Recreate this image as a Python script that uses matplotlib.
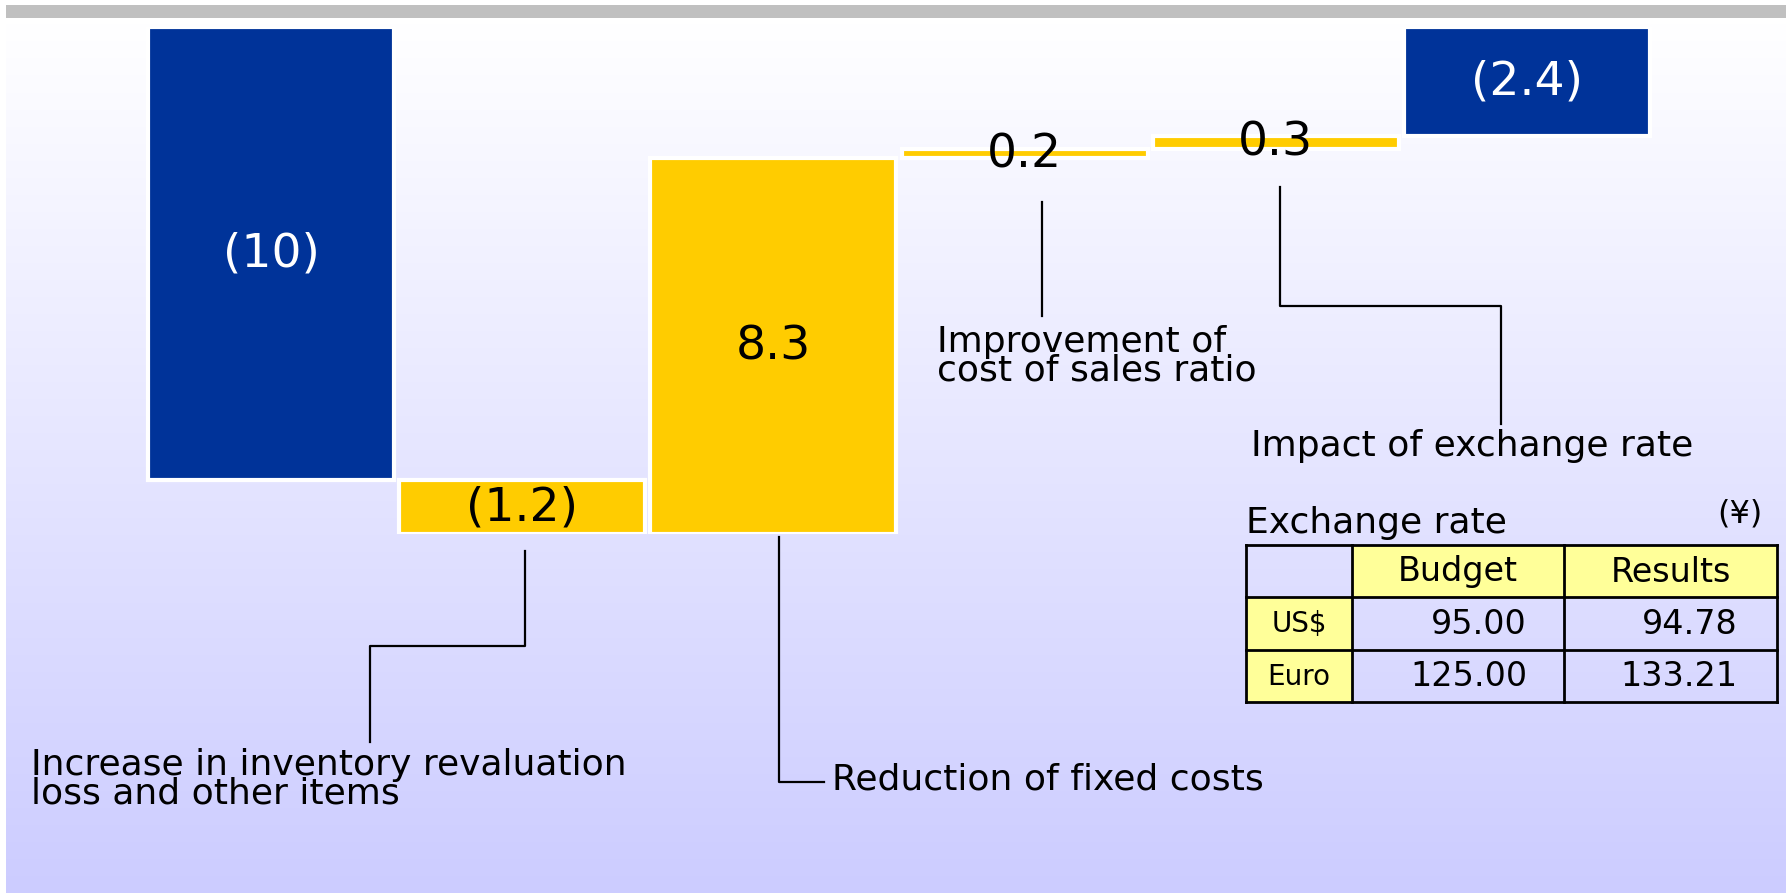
#!/usr/bin/env python
# waterfall of operating income changes, budget vs results, with exchange rate table

import matplotlib.pyplot as plt
import numpy as np
from matplotlib.patches import Rectangle

# changes, in billions of yen
steps = [-10, -1.2, 8.3, 0.2, 0.3]
total = -2.4
step_labels = ["(10)", "(1.2)", "8.3", "0.2", "0.3"]
total_label = "(2.4)"

# exchange rate table
currencies = ["US$", "Euro"]
budget_rates = ["95.00", "125.00"]
result_rates = ["94.78", "133.21"]
table_cols = ["Budget", "Results"]

blue = "#003399"
yellow = "#FFCC00"
pale = "#FFFF99"

fig = plt.figure(figsize=(17.86, 8.95), dpi=100)
plt.rcParams['font.family'] = ['DejaVu Sans']

# background layer in pixel coordinates
bg = fig.add_axes([0, 0, 1, 1])
bg.set_xlim(0, 1786)
bg.set_ylim(895, 0)
bg.axis("off")
grad = np.linspace(0, 1, 256).reshape(-1, 1)
top_c = np.array([1.0, 1.0, 1.0])
bot_c = np.array([204, 204, 255]) / 255
img = top_c + grad[..., None] * (bot_c - top_c)
bg.imshow(img, extent=(6, 1786, 894, 22), aspect="auto", zorder=0)
bg.add_patch(Rectangle((6, 6), 1780, 13, color="#C0C0C0", lw=0, zorder=1))

# waterfall bars
ax = fig.add_axes([145.4 / 1786, 1 - 535 / 895, (1652.6 - 145.4) / 1786, (535 - 28) / 895])
ax.set_xlim(-0.5, 5.5)
ax.set_ylim(-11.2, 0)
ax.axis("off")
ax.patch.set_alpha(0)

bottoms = np.concatenate([[0], np.cumsum(steps)[:-1]])
colors = [blue] + [yellow] * (len(steps) - 1)
x = np.arange(len(steps))
ax.bar(x, steps, bottom=bottoms, width=0.98, color=colors, edgecolor="white", linewidth=3)
ax.bar(len(steps), total, bottom=0, width=0.98, color=blue, edgecolor="white", linewidth=3)

for i, (s, b, lab) in enumerate(zip(steps, bottoms, step_labels)):
    c = "white" if colors[i] == blue else "black"
    ax.text(i, b + s / 2, lab, ha="center", va="center", fontsize=34, color=c)
ax.text(len(steps), total / 2, total_label, ha="center", va="center", fontsize=34, color="white")

# leader lines and captions
lk = dict(color="black", lw=1.6, zorder=3)
bg.plot([525, 525, 370, 370], [552, 647, 647, 743], **lk)
bg.plot([779, 779, 824], [538, 783, 783], **lk)
bg.plot([1042, 1042], [203, 317], **lk)
bg.plot([1280, 1280, 1501, 1501], [188, 307, 307, 425], **lk)

cap = dict(fontsize=26, color="black", va="center", ha="left", linespacing=0.8)
bg.text(31, 779, "Increase in inventory revaluation\nloss and other items", **cap)
bg.text(832, 780, "Reduction of fixed costs", **cap)
bg.text(937, 356, "Improvement of\ncost of sales ratio", **cap)
bg.text(1251, 446, "Impact of exchange rate", **cap)

# exchange rate table
bg.text(1246, 523, "Exchange rate", fontsize=26, va="center", ha="left")
bg.text(1762, 514, "(¥)", fontsize=23, va="center", ha="right")
col_x = [1246, 1352, 1564, 1777]
row_y = [546, 598, 651, 703]
for j in (1, 2):
    bg.add_patch(Rectangle((col_x[j], row_y[0]), col_x[j + 1] - col_x[j], row_y[1] - row_y[0], color=pale, lw=0, zorder=2))
for r in (1, 2):
    bg.add_patch(Rectangle((col_x[0], row_y[r]), col_x[1] - col_x[0], row_y[r + 1] - row_y[r], color=pale, lw=0, zorder=2))
for xx in col_x:
    bg.plot([xx, xx], [row_y[0], row_y[-1]], color="black", lw=2, zorder=3)
for yy in row_y:
    bg.plot([col_x[0], col_x[-1]], [yy, yy], color="black", lw=2, zorder=3)
for j, name in enumerate(table_cols):
    bg.text((col_x[j + 1] + col_x[j + 2]) / 2, (row_y[0] + row_y[1]) / 2, name, fontsize=24, ha="center", va="center", zorder=4)
for r, cur in enumerate(currencies):
    yc = (row_y[r + 1] + row_y[r + 2]) / 2
    bg.text((col_x[0] + col_x[1]) / 2, yc, cur, fontsize=20, ha="center", va="center", zorder=4)
    bg.text(1527, yc, budget_rates[r], fontsize=24, ha="right", va="center", zorder=4)
    bg.text(1737, yc, result_rates[r], fontsize=24, ha="right", va="center", zorder=4)

fig.savefig("out.png", dpi=100)
